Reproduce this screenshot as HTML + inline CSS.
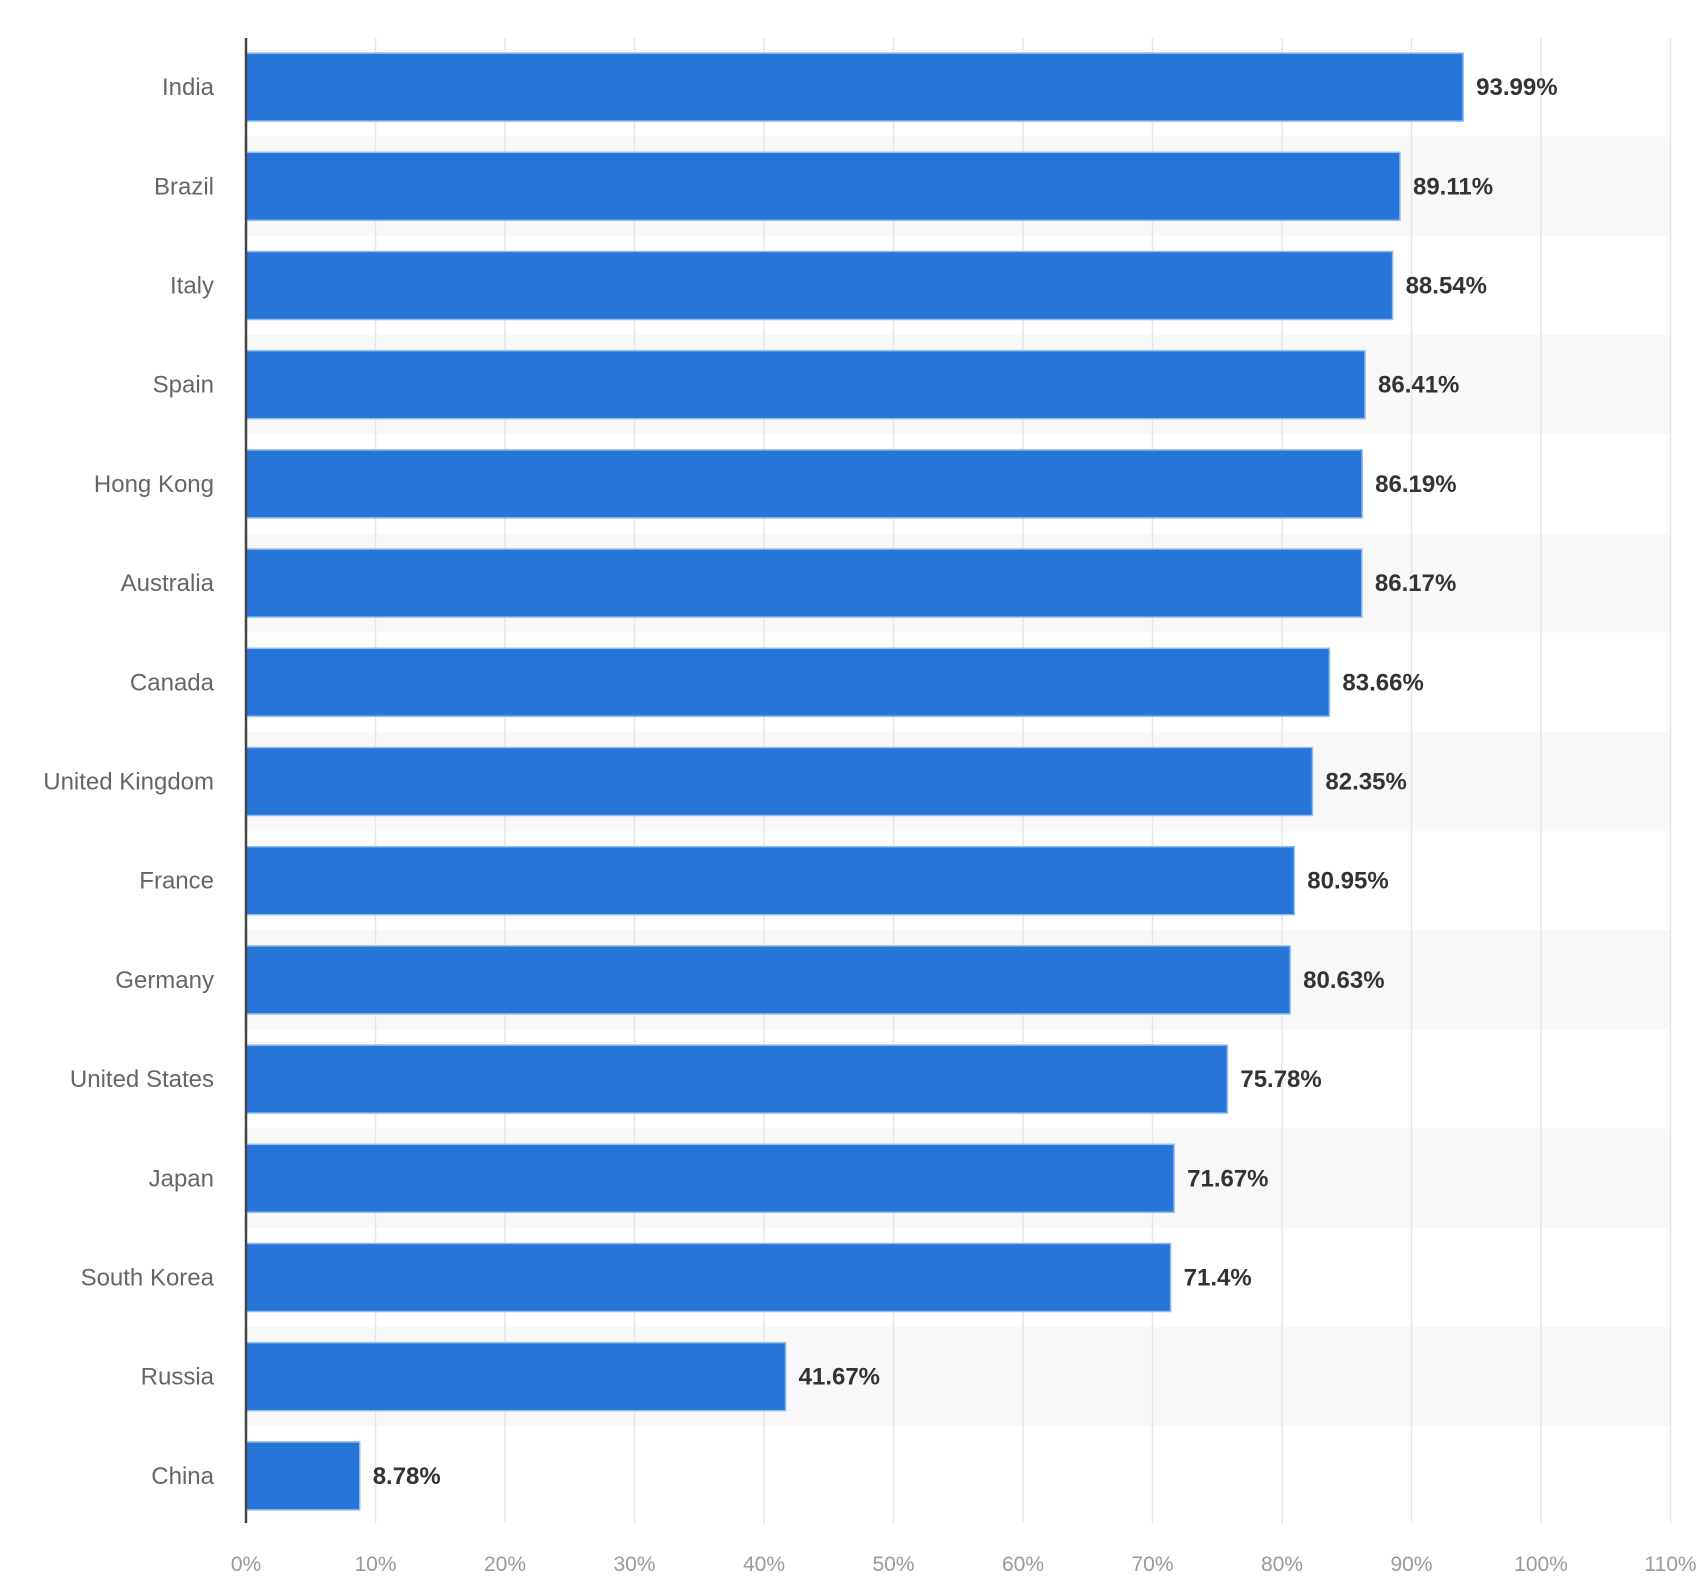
<!DOCTYPE html>
<html><head><meta charset="utf-8"><style>
html,body{margin:0;padding:0;background:#fff;}
svg{display:block;font-family:"Liberation Sans",sans-serif;}
</style></head><body>
<svg id="chart" width="1706" height="1596"></svg>
<script>
const categories=["India","Brazil","Italy","Spain","Hong Kong","Australia","Canada","United Kingdom","France","Germany","United States","Japan","South Korea","Russia","China"];
const values=[93.99,89.11,88.54,86.41,86.19,86.17,83.66,82.35,80.95,80.63,75.78,71.67,71.4,41.67,8.78];
const valueLabels=["93.99%","89.11%","88.54%","86.41%","86.19%","86.17%","83.66%","82.35%","80.95%","80.63%","75.78%","71.67%","71.4%","41.67%","8.78%"];
const ticks=[0,10,20,30,40,50,60,70,80,90,100,110];
const tickLabels=["0%","10%","20%","30%","40%","50%","60%","70%","80%","90%","100%","110%"];

const NS="http://www.w3.org/2000/svg";
const svg=document.getElementById("chart");
const x0=246,pxPer=12.95,rowTop=37.5,pitch=99.2,barH=68;
const xs=v=>x0+v*pxPer;
const yc=i=>rowTop+pitch*i+pitch/2;
function mk(tag,attrs){const e=document.createElementNS(NS,tag);for(const k in attrs)e.setAttribute(k,attrs[k]);svg.appendChild(e);return e;}
// row bands
categories.forEach((c,i)=>{if(i%2===1){
 const b=mk("rect",{x:x0,y:yc(i)-pitch/2,width:xs(110)-x0,height:pitch,fill:"#f8f8f8"});
 
 
}});
// gridlines & ticks
ticks.forEach((t,i)=>{
 const g=mk("line",{x1:xs(t),x2:xs(t),y1:38,y2:1523,stroke:"#e6e6e6","stroke-width":1.5});
 
 
 const l=mk("text",{x:xs(t),y:1571,"text-anchor":"middle","font-size":21,fill:"#9a9a9a"});
 l.textContent=tickLabels[i];
 
 
});
// bars
categories.forEach((c,i)=>{
 const r=mk("rect",{x:x0,y:yc(i)-barH/2,width:xs(values[i])-x0,height:barH,fill:"#2775d9",stroke:"#8fbdf0","stroke-width":1.5});
 
 
 const v=mk("text",{x:xs(values[i])+13,y:yc(i)+8,"font-size":24,fill:"#333","font-weight":"bold"});
 v.textContent=valueLabels[i];
 
 
 const n=mk("text",{x:214,y:yc(i)+8,"text-anchor":"end","font-size":24,fill:"#666"});
 n.textContent=c;
 
 
});
const ax=mk("line",{x1:x0,x2:x0,y1:38,y2:1523,stroke:"#444","stroke-width":2.5});


</script>
</body></html>
